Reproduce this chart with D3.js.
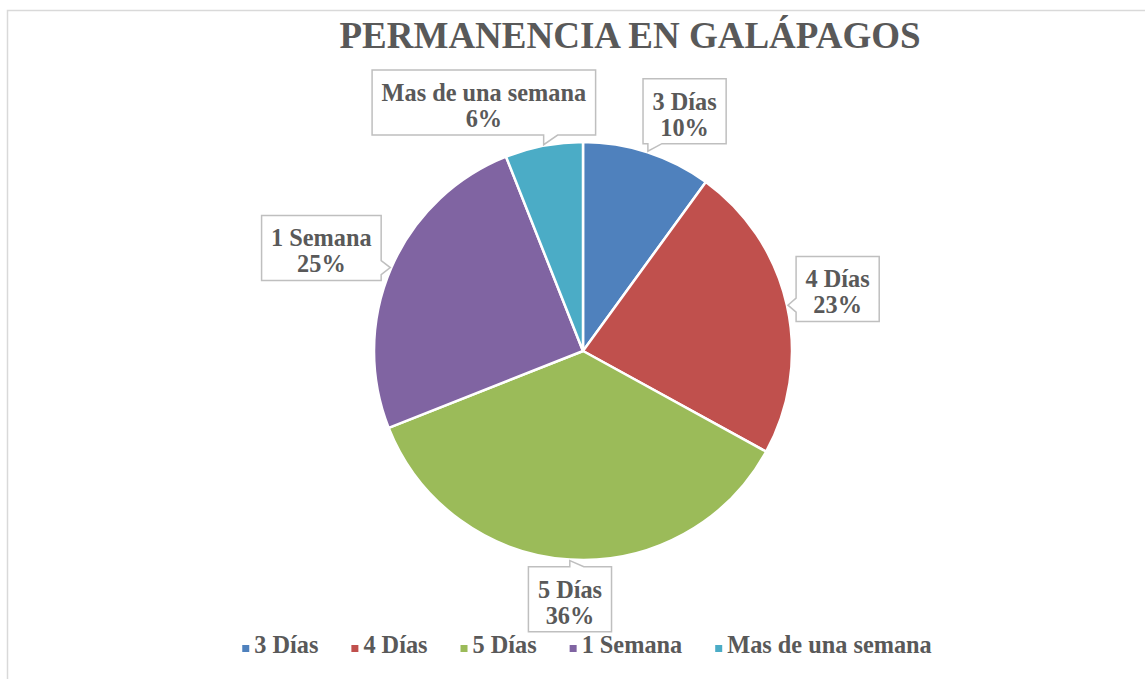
<!DOCTYPE html>
<html>
<head>
<meta charset="utf-8">
<script src="https://cdn.jsdelivr.net/npm/d3@7"></script>
<style>
    body { margin: 0; background: #fff; }
    svg { display: block; }
    text { font-family: "Liberation Serif", "Times New Roman", serif; font-weight: bold; fill: #595959; }
</style>
</head>
<body>
<div id="chart"></div>
<script>
const categories = ["3 Días", "4 Días", "5 Días", "1 Semana", "Mas de una semana"];
const percents = [10, 23, 36, 25, 6];
const colors = ["#4F81BD", "#C0504D", "#9BBB59", "#8064A2", "#4BACC6"];
const title = "PERMANENCIA EN GALÁPAGOS";

// callouts were dragged by hand in the original, so nudge each one
const label_angle_shift = [5, -1, -0.6, -2, -11];
const label_distance = [260, 262, 249, 281, 267];

const width = 1145, height = 679;
const cx = 583, cy = 351, radius = 209;
const font_size = "24.3px";

const svg = d3.select("#chart").append("svg")
    .attr("width", width)
    .attr("height", height);

// chart frame (runs off the right and bottom of the picture)
svg.append("rect")
    .attr("x", 7.5).attr("y", 10.5)
    .attr("width", 1400).attr("height", 900)
    .attr("fill", "none")
    .attr("stroke", "#D9D9D9")
    .attr("stroke-width", 1.5);

svg.append("text")
    .attr("x", 630).attr("y", 48)
    .attr("text-anchor", "middle")
    .style("font-size", "37px")
    .text(title);

const data = categories.map((c, i) => ({ name: c, value: percents[i], color: colors[i], idx: i }));

const pie = d3.pie().sort(null).value(d => d.value);
const arcs = pie(data);
const arc = d3.arc().innerRadius(0).outerRadius(radius);

const g = svg.append("g").attr("transform", `translate(${cx},${cy})`);

g.selectAll("path.slice")
    .data(arcs)
    .join("path")
    .attr("class", "slice")
    .attr("d", arc)
    .attr("fill", d => d.data.color)
    .attr("stroke", "#fff")
    .attr("stroke-width", 2.5)
    .attr("stroke-linejoin", "round");

// data callouts
const labels = g.append("g");
arcs.forEach((a) => {
    const i = a.data.idx;
    const mid = (a.startAngle + a.endAngle) / 2;
    const ang = mid + label_angle_shift[i] * Math.PI / 180;
    const lx = Math.sin(ang) * label_distance[i];
    const ly = -Math.cos(ang) * label_distance[i];
    const tip = [Math.sin(mid) * (radius + 1), -Math.cos(mid) * (radius + 1)];

    const lg = labels.append("g");
    const t1 = lg.append("text").attr("text-anchor", "middle").style("font-size", font_size)
        .attr("x", lx).attr("y", ly - 2).text(a.data.name);
    const t2 = lg.append("text").attr("text-anchor", "middle").style("font-size", font_size)
        .attr("x", lx).attr("y", ly + 24).text(a.data.value + "%");

    const tw = Math.max(t1.node().getComputedTextLength(), t2.node().getComputedTextLength());
    const bw = tw + 19, bh = 65;
    const x0 = lx - bw / 2, x1 = lx + bw / 2, y0 = ly - 33, y1 = ly + 32;
    const wedge = 14;

    let pts;
    if (tip[1] > y1) {
        const b = Math.max(x0 + 2, Math.min(x1 - wedge - 2, tip[0]));
        pts = [[x0, y0], [x1, y0], [x1, y1], [b + wedge, y1], tip, [b, y1], [x0, y1]];
    } else if (tip[1] < y0) {
        const b = Math.max(x0 + 2, Math.min(x1 - wedge - 2, tip[0]));
        pts = [[x0, y0], [b, y0], tip, [b + wedge, y0], [x1, y0], [x1, y1], [x0, y1]];
    } else if (tip[0] < x0) {
        const b = Math.max(y0 + 2, Math.min(y1 - wedge - 2, tip[1] - wedge / 2));
        pts = [[x0, y0], [x1, y0], [x1, y1], [x0, y1], [x0, b + wedge], tip, [x0, b]];
    } else {
        const b = Math.max(y0 + 2, Math.min(y1 - wedge - 2, tip[1] - wedge / 2));
        pts = [[x0, y0], [x1, y0], [x1, b], tip, [x1, b + wedge], [x1, y1], [x0, y1]];
    }

    lg.insert("path", "text")
        .attr("d", d3.line()(pts) + "Z")
        .attr("fill", "#fff")
        .attr("stroke", "#BFBFBF")
        .attr("stroke-width", 1.5);
});

// legend
const legend = svg.append("g");
let lx = 0;
data.forEach((d) => {
    const item = legend.append("g");
    item.append("rect")
        .attr("x", lx).attr("y", -8)
        .attr("width", 7).attr("height", 7)
        .attr("fill", d.color);
    const t = item.append("text")
        .attr("x", lx + 12).attr("y", 0)
        .style("font-size", font_size)
        .text(d.name);
    lx += 12 + t.node().getComputedTextLength() + 33;
});
const legend_w = lx - 33;
legend.attr("transform", `translate(${587 - legend_w / 2},653)`);
</script>
</body>
</html>
